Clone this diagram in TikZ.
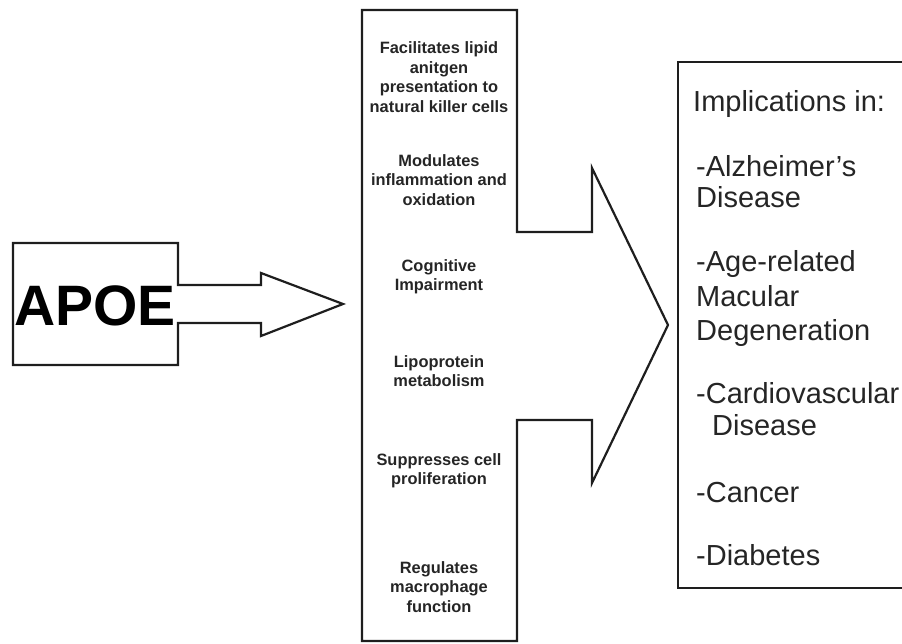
\documentclass[tikz,border=0pt]{standalone}
\usepackage{fontspec}
\setmainfont{Liberation Sans}
\definecolor{ink}{HTML}{1E1E1E}
\definecolor{txt}{HTML}{252525}
\begin{document}
\begin{tikzpicture}[x=1pt,y=-1pt,
  outline/.style={draw=ink,line width=2.2pt,line join=miter},
  midtxt/.style={align=center,text=txt,font=\fontsize{16.4}{19.5}\selectfont\bfseries,inner sep=0pt},
  rtxt/.style={anchor=base west,text=txt,font=\fontsize{29}{33}\selectfont,inner sep=0pt}]
\useasboundingbox (0,0) rectangle (902,644);
% APOE box with arrow
\coordinate (a1) at (13,243);
\draw[outline] (a1) -- (178,243) -- (178,285) -- (261,285) -- (261,273) -- (343,304)
  -- (261,336) -- (261,323) -- (178,323) -- (178,365) -- (13,365) -- cycle;
\node[font=\fontsize{57}{60}\selectfont\bfseries,text=black,inner sep=0pt] (apoe) at (95,306) {APOE};
% middle box with arrow
\coordinate (m1) at (362,10);
\draw[outline] (m1) -- (517,10) -- (517,232) -- (592,232) -- (592,168) -- (668,325)
  -- (592,483) -- (592,420) -- (517,420) -- (517,641) -- (362,641) -- cycle;
\node[midtxt] (f1) at (439,77) {Facilitates lipid\\anitgen\\presentation to\\natural killer cells};
\node[midtxt] (f2) at (439,180) {Modulates\\inflammation and\\oxidation};
\node[midtxt] (f3) at (439,277) {Cognitive\\Impairment};
\node[midtxt] (f4) at (439,371) {Lipoprotein\\metabolism};
\node[midtxt] (f5) at (439,471) {Suppresses cell\\proliferation};
\node[midtxt] (f6) at (439,587) {Regulates\\macrophage\\function};
% right box (cut at the right edge)
\draw[outline] (902,62) -- (678,62) -- (678,588) -- (902,588);
\node[rtxt] (r0) at (693,112) {Implications in:};
\node[rtxt] (r1) at (696,177) {-Alzheimer's};
\node[rtxt] (r2) at (696,208) {Disease};
\node[rtxt] (r3) at (696,272) {-Age-related};
\node[rtxt] (r4) at (696,307) {Macular};
\node[rtxt] (r5) at (696,340) {Degeneration};
\node[rtxt] (r6) at (696,403) {-Cardiovascular};
\node[rtxt] (r7) at (712,435) {Disease};
\node[rtxt] (r8) at (696,502) {-Cancer};
\node[rtxt] (r9) at (696,565) {-Diabetes};
\end{tikzpicture}
\end{document}
